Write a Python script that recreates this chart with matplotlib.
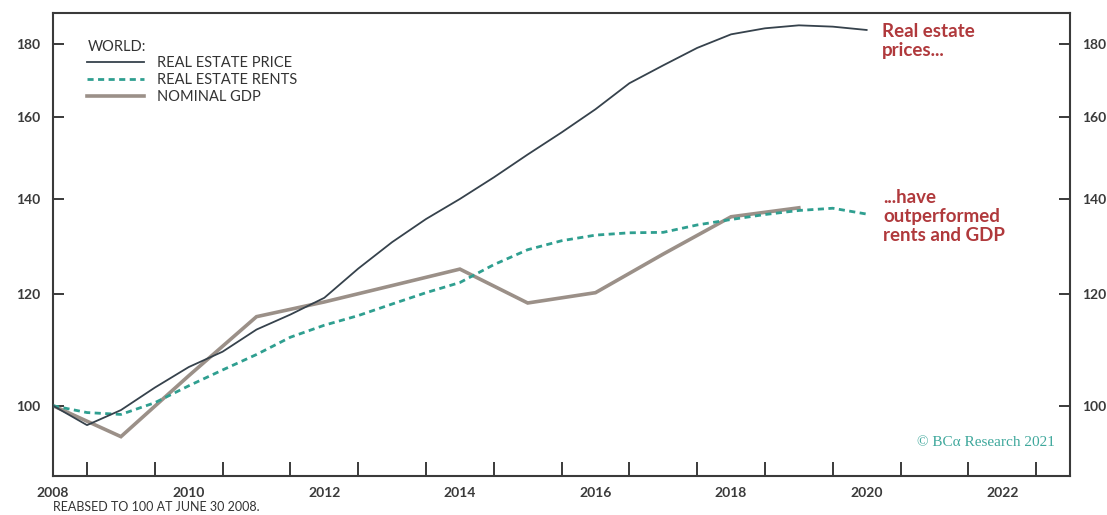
import numpy as np
import matplotlib
matplotlib.use("Agg")
from matplotlib import pyplot as plt
from matplotlib.ticker import FixedLocator, NullFormatter, NullLocator

## data (log-scaled index, 2008-06-30 = 100)
price_x = [2008.5, 2009.0, 2009.5, 2010.0, 2010.5, 2011.0, 2011.5, 2012.0, 2012.5,
           2013.0, 2013.5, 2014.0, 2014.5, 2015.0, 2015.5, 2016.0, 2016.5, 2017.0,
           2017.5, 2018.0, 2018.5, 2019.0, 2019.5, 2020.0, 2020.5]
price = [100.0, 96.9, 99.3, 103.0, 106.5, 109.2, 113.2, 116.0, 119.2,
         125.0, 130.5, 135.5, 140.0, 145.0, 150.5, 156.0, 162.0, 169.0,
         174.0, 179.0, 183.0, 184.8, 185.7, 185.3, 184.3]

rents_x = [2008.5, 2009.0, 2009.5, 2010.0, 2010.5, 2011.0, 2011.5, 2012.0, 2012.5,
           2013.0, 2013.5, 2014.0, 2014.5, 2015.0, 2015.5, 2016.0, 2016.5, 2017.0,
           2017.5, 2018.0, 2018.5, 2019.0, 2019.5, 2020.0, 2020.5]
rents = [100.0, 98.9, 98.6, 100.5, 103.3, 106.0, 108.7, 111.8, 114.0,
         115.8, 118.0, 120.2, 122.2, 125.8, 128.9, 130.8, 132.0, 132.5,
         132.6, 134.2, 135.4, 136.5, 137.4, 137.9, 136.6]

gdp_x = [2008.5, 2009.5, 2010.5, 2011.5, 2012.5, 2013.5, 2014.5, 2015.5, 2016.5,
         2017.5, 2018.5, 2019.5]
gdp = [100.0, 95.1, 105.0, 115.6, 118.4, 121.6, 124.9, 118.2, 120.2,
       128.0, 136.0, 138.0]

yticks = [100, 120, 140, 160, 180]
year_ticks = list(range(2009, 2024))
year_labels = ['2008', '2010', '2012', '2014', '2016', '2018', '2020', '2022']

## colors
c_price = '#36424c'
c_rents = '#2f9f90'
c_gdp = '#9b9088'
c_red = '#b0393c'
c_axis = '#3a3a3a'

plt.rcParams['font.family'] = ['Lato', 'DejaVu Sans']

fig = plt.figure(figsize=(11.07, 5.15), dpi=100)
ax = fig.add_axes([0.048, 0.0757, 0.9186, 0.8993])

ax.plot(gdp_x, gdp, color=c_gdp, lw=2.6, solid_joinstyle='miter', label='NOMINAL GDP', zorder=2)
ax.plot(rents_x, rents, color=c_rents, lw=2.0, ls=(0, (2.2, 1.6)), label='REAL ESTATE RENTS', zorder=3)
ax.plot(price_x, price, color=c_price, lw=1.3, label='REAL ESTATE PRICE', zorder=4)

ax.set_yscale('log')
ax.set_ylim(89.2, 189.5)
ax.set_xlim(2008.5, 2023.5)

# y axis both sides, ticks inward
ax.yaxis.set_major_locator(FixedLocator(yticks))
ax.yaxis.set_minor_locator(NullLocator())
ax.set_yticklabels([str(v) for v in yticks])
ax.yaxis.set_minor_formatter(NullFormatter())
ax.tick_params(axis='y', which='major', direction='in', length=8, width=1.4,
               left=True, right=True, labelleft=True, labelright=True,
               colors=c_axis, labelsize=10, pad=9)

# x axis: ticks at year boundaries, labels centred in even years
ax.xaxis.set_major_locator(FixedLocator(year_ticks))
ax.xaxis.set_major_formatter(NullFormatter())
ax.xaxis.set_minor_locator(FixedLocator([int(s) + 0.5 for s in year_labels]))
ax.set_xticklabels(year_labels, minor=True)
ax.tick_params(axis='x', which='major', direction='in', length=10, width=1.4, colors=c_axis)
ax.tick_params(axis='x', which='minor', length=0, labelsize=10, pad=8, colors=c_axis)
for lab in ax.get_xticklabels(minor=True) + ax.get_yticklabels():
    lab.set_fontweight('bold')
for lab in ax.yaxis.get_ticklabels(which='major'):
    lab.set_fontweight('bold')

for s in ax.spines.values():
    s.set_color(c_axis)
    s.set_linewidth(1.5)

# legend
h, l = ax.get_legend_handles_labels()
order = [2, 1, 0]
leg = ax.legend([h[i] for i in order], [l[i] for i in order], title='WORLD:',
                loc='upper left', bbox_to_anchor=(0.028, 0.955), frameon=False,
                fontsize=10.5, title_fontsize=10.5, handlelength=3.9, handletextpad=0.85,
                labelspacing=0.2, alignment='left', borderaxespad=0)
for t in leg.get_texts():
    t.set_color('#333333')
leg.get_title().set_color('#333333')

# annotations
ax.text(2020.72, 181.0, 'Real estate\nprices...', color=c_red, fontsize=13.5,
        fontweight='bold', va='center', ha='left', linespacing=1.15)
ax.text(2020.74, 136.0, '...have\noutperformed\nrents and GDP', color=c_red,
        fontsize=13.5, fontweight='bold', va='center', ha='left', linespacing=1.15)

ax.text(0.985, 0.073, '\u00a9 BC\u03b1 Research 2021', transform=ax.transAxes,
        color='#3fa89c', fontsize=11, family=['Liberation Serif', 'DejaVu Serif'],
        ha='right', va='center')

fig.text(53 / 1107, 1 - 507 / 515, 'REABSED TO 100 AT JUNE 30 2008.', fontsize=9,
         color='#333333', ha='left', va='center')

fig.savefig('out.png', dpi=100)
